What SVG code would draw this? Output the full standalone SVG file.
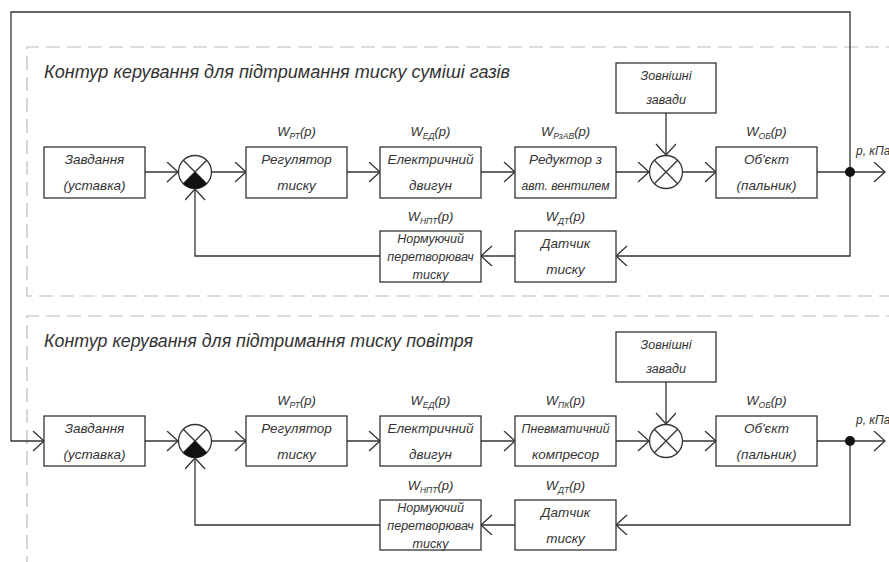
<svg xmlns="http://www.w3.org/2000/svg" width="889" height="562" viewBox="0 0 889 562">
<style>
.bg{fill:#fff}
.box{fill:#fff;stroke:#333;stroke-width:1.3}
.ln{fill:none;stroke:#333;stroke-width:1.3}
.dash{fill:none;stroke:#bbb;stroke-width:1.2;stroke-dasharray:14 7}
text{font-family:"Liberation Sans","DejaVu Sans",sans-serif;font-style:italic;fill:#333}
.t{font-size:13.5px;text-anchor:middle}
.t3{font-size:12.5px;text-anchor:middle}
.lbl{font-size:13px;text-anchor:middle}
.sub{font-size:8.5px}
.title{font-size:19px}
.out{font-size:12px}
.sum{fill:#fff;stroke:#333;stroke-width:1.3}
</style>
<defs>
<marker id="arr" markerUnits="userSpaceOnUse" markerWidth="16" markerHeight="22" refX="12" refY="10" orient="auto">
<path d="M1,0 L12,10 L1,20" fill="none" stroke="#333" stroke-width="1.3"/>
</marker>
</defs>
<rect class="bg" x="0" y="0" width="889" height="562"/>

<g id="frames">
<path class="dash" d="M900,47 H27 V296 H900"/>
<path class="dash" d="M900,316 H27 V570"/>
</g>

<g id="titles">
<text class="title" x="44" y="78" textLength="466" lengthAdjust="spacingAndGlyphs">Контур керування для підтримання тиску суміші газів</text>
<text class="title" x="44" y="347" textLength="429" lengthAdjust="spacingAndGlyphs">Контур керування для підтримання тиску повітря</text>
</g>

<g id="connectors">
<path class="ln" d="M145,172 H178" marker-end="url(#arr)"/>
<path class="ln" d="M212,172 H246" marker-end="url(#arr)"/>
<path class="ln" d="M347,172 H380" marker-end="url(#arr)"/>
<path class="ln" d="M481,172 H515" marker-end="url(#arr)"/>
<path class="ln" d="M616,172 H649" marker-end="url(#arr)"/>
<path class="ln" d="M683,172 H716" marker-end="url(#arr)"/>
<path class="ln" d="M817,172 H885" marker-end="url(#arr)"/>
<path class="ln" d="M666,113 V155" marker-end="url(#arr)"/>
<path class="ln" d="M850,172 V256 H616" marker-end="url(#arr)"/>
<path class="ln" d="M515,256 H481" marker-end="url(#arr)"/>
<path class="ln" d="M380,256 H195 V189" marker-end="url(#arr)"/>
<path class="ln" d="M850,172 V12 H11 V441 H44" marker-end="url(#arr)"/>
<path class="ln" d="M145,441 H178" marker-end="url(#arr)"/>
<path class="ln" d="M212,441 H246" marker-end="url(#arr)"/>
<path class="ln" d="M347,441 H380" marker-end="url(#arr)"/>
<path class="ln" d="M481,441 H515" marker-end="url(#arr)"/>
<path class="ln" d="M616,441 H649" marker-end="url(#arr)"/>
<path class="ln" d="M683,441 H716" marker-end="url(#arr)"/>
<path class="ln" d="M817,441 H885" marker-end="url(#arr)"/>
<path class="ln" d="M666,382 V424" marker-end="url(#arr)"/>
<path class="ln" d="M850,441 V525 H616" marker-end="url(#arr)"/>
<path class="ln" d="M515,525 H481" marker-end="url(#arr)"/>
<path class="ln" d="M380,525 H195 V458" marker-end="url(#arr)"/>
<circle cx="850" cy="172" r="5" fill="#111"/>
<circle cx="850" cy="441" r="5" fill="#111"/>
<text class="out" x="856" y="155">p, кПа</text>
<text class="out" x="856" y="424">p, кПа</text>
</g>

<g id="zavd1"><rect class="box" x="44" y="147" width="101" height="51"/><text class="t" x="94.5" y="164">Завдання</text><text class="t" x="94.5" y="190">(уставка)</text></g>
<g id="sum1"><circle class="sum" cx="195" cy="172" r="16.5"/><path class="ln" d="M183.3,160.3 L206.7,183.7 M206.7,160.3 L183.3,183.7"/><path d="M195,172 L206.7,183.7 A16.5,16.5 0 0 1 183.3,183.7 Z" fill="#111"/></g>
<g id="reg1"><rect class="box" x="246" y="147" width="101" height="51"/><text class="t" x="296.5" y="164">Регулятор</text><text class="t" x="296.5" y="190">тиску</text><text class="lbl" x="296.5" y="136">W<tspan class="sub" dy="3">РТ</tspan><tspan dy="-3">(p)</tspan></text></g>
<g id="ed1"><rect class="box" x="380" y="147" width="101" height="51"/><text class="t" x="430.5" y="164">Електричний</text><text class="t" x="430.5" y="190">двигун</text><text class="lbl" x="430.5" y="136">W<tspan class="sub" dy="3">ЕД</tspan><tspan dy="-3">(p)</tspan></text></g>
<g id="red1"><rect class="box" x="515" y="147" width="101" height="51"/><text class="t" x="565.5" y="164">Редуктор з</text><text class="t" x="565.5" y="190" textLength="88" lengthAdjust="spacingAndGlyphs">авт. вентилем</text><text class="lbl" x="565.5" y="136">W<tspan class="sub" dy="3">РзАВ</tspan><tspan dy="-3">(p)</tspan></text></g>
<g id="sum2"><circle class="sum" cx="666" cy="172" r="16.5"/><path class="ln" d="M654.3,160.3 L677.7,183.7 M677.7,160.3 L654.3,183.7"/></g>
<g id="zz1"><rect class="box" x="616" y="63" width="100" height="50"/><text class="t3" x="666" y="80">Зовнішні</text><text class="t3" x="666" y="104">завади</text></g>
<g id="obj1"><rect class="box" x="716" y="147" width="101" height="51"/><text class="t" x="766.5" y="164">Об'єкт</text><text class="t" x="766.5" y="190">(пальник)</text><text class="lbl" x="766.5" y="136">W<tspan class="sub" dy="3">ОБ</tspan><tspan dy="-3">(p)</tspan></text></g>
<g id="dt1"><rect class="box" x="515" y="231" width="101" height="51"/><text class="t" x="565.5" y="248">Датчик</text><text class="t" x="565.5" y="274">тиску</text><text class="lbl" x="565.5" y="221">W<tspan class="sub" dy="3">ДТ</tspan><tspan dy="-3">(p)</tspan></text></g>
<g id="npt1"><rect class="box" x="380" y="231" width="101" height="51"/><text class="t3" x="430.5" y="243">Нормуючий</text><text class="t3" x="430.5" y="261">перетворювач</text><text class="t3" x="430.5" y="279">тиску</text><text class="lbl" x="430.5" y="221">W<tspan class="sub" dy="3">НПТ</tspan><tspan dy="-3">(p)</tspan></text></g>

<g id="zavd2"><rect class="box" x="44" y="416" width="101" height="50"/><text class="t" x="94.5" y="433">Завдання</text><text class="t" x="94.5" y="459">(уставка)</text></g>
<g id="sum3"><circle class="sum" cx="195" cy="441" r="16.5"/><path class="ln" d="M183.3,429.3 L206.7,452.7 M206.7,429.3 L183.3,452.7"/><path d="M195,441 L206.7,452.7 A16.5,16.5 0 0 1 183.3,452.7 Z" fill="#111"/></g>
<g id="reg2"><rect class="box" x="246" y="416" width="101" height="50"/><text class="t" x="296.5" y="433">Регулятор</text><text class="t" x="296.5" y="459">тиску</text><text class="lbl" x="296.5" y="405">W<tspan class="sub" dy="3">РТ</tspan><tspan dy="-3">(p)</tspan></text></g>
<g id="ed2"><rect class="box" x="380" y="416" width="101" height="50"/><text class="t" x="430.5" y="433">Електричний</text><text class="t" x="430.5" y="459">двигун</text><text class="lbl" x="430.5" y="405">W<tspan class="sub" dy="3">ЕД</tspan><tspan dy="-3">(p)</tspan></text></g>
<g id="pk2"><rect class="box" x="515" y="416" width="101" height="50"/><text class="t" x="565.5" y="433" textLength="88" lengthAdjust="spacingAndGlyphs">Пневматичний</text><text class="t" x="565.5" y="459">компресор</text><text class="lbl" x="565.5" y="405">W<tspan class="sub" dy="3">ПК</tspan><tspan dy="-3">(p)</tspan></text></g>
<g id="sum4"><circle class="sum" cx="666" cy="441" r="16.5"/><path class="ln" d="M654.3,429.3 L677.7,452.7 M677.7,429.3 L654.3,452.7"/></g>
<g id="zz2"><rect class="box" x="616" y="332" width="100" height="50"/><text class="t3" x="666" y="349">Зовнішні</text><text class="t3" x="666" y="373">завади</text></g>
<g id="obj2"><rect class="box" x="716" y="416" width="101" height="50"/><text class="t" x="766.5" y="433">Об'єкт</text><text class="t" x="766.5" y="459">(пальник)</text><text class="lbl" x="766.5" y="405">W<tspan class="sub" dy="3">ОБ</tspan><tspan dy="-3">(p)</tspan></text></g>
<g id="dt2"><rect class="box" x="515" y="500" width="101" height="50"/><text class="t" x="565.5" y="517">Датчик</text><text class="t" x="565.5" y="543">тиску</text><text class="lbl" x="565.5" y="490">W<tspan class="sub" dy="3">ДТ</tspan><tspan dy="-3">(p)</tspan></text></g>
<g id="npt2"><rect class="box" x="380" y="500" width="101" height="50"/><text class="t3" x="430.5" y="512">Нормуючий</text><text class="t3" x="430.5" y="530">перетворювач</text><text class="t3" x="430.5" y="548">тиску</text><text class="lbl" x="430.5" y="490">W<tspan class="sub" dy="3">НПТ</tspan><tspan dy="-3">(p)</tspan></text></g>
</svg>
